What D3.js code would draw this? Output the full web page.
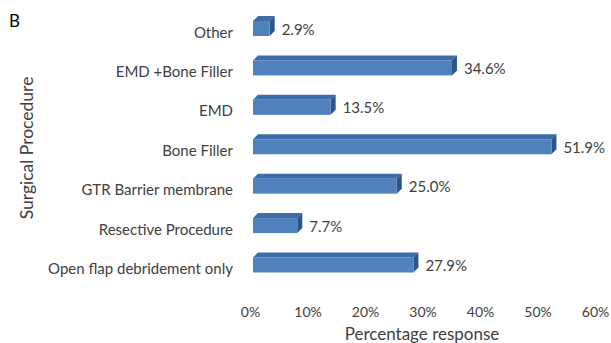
<!DOCTYPE html>
<html><head><meta charset="utf-8">
<script src="https://cdn.jsdelivr.net/npm/d3@7"></script>
<style>body{margin:0;background:#fff}svg{display:block}</style>
</head><body>
<svg id="c" width="611" height="343"></svg>
<script>
const categories = ["Other","EMD +Bone Filler","EMD","Bone Filler","GTR Barrier membrane","Resective Procedure","Open flap debridement only"];
const values = [2.9, 34.6, 13.5, 51.9, 25.0, 7.7, 27.9];
const ticks = [0,10,20,30,40,50,60];

const svg = d3.select("#c");
const font = "Lato, 'Open Sans', sans-serif";
const x = d3.scaleLinear().domain([0,60]).range([253,598]);
const y = d3.scalePoint().domain(categories).range([28.5,265]);
const h = 15, dx = 5, dy = 5;

const g = svg.append("g");
categories.forEach((c,i)=>{
  const yc = y(c), x0 = x(0), x1 = x(values[i]);
  const top = yc - h/2, bot = yc + h/2;
  g.append("path").attr("d",`M${x0},${top}L${x0+dx},${top-dy}L${x1+dx},${top-dy}L${x1},${top}Z`).attr("fill","#3d6ca8");
  g.append("path").attr("d",`M${x1},${top}L${x1+dx},${top-dy}L${x1+dx},${bot-dy}L${x1},${bot}Z`).attr("fill","#2c5689");
  g.append("rect").attr("x",x0).attr("y",top).attr("width",x1-x0).attr("height",h).attr("fill","#4f81bd");
  g.append("text").attr("x",x1+12).attr("y",yc).attr("dominant-baseline","central")
    .attr("font-family",font).attr("font-size",15).attr("fill","#404040").text(values[i].toFixed(1)+"%");
  g.append("text").attr("x",233).attr("y",yc+3).attr("dominant-baseline","central").attr("text-anchor","end")
    .attr("font-family",font).attr("font-size",15).attr("fill","#404040").text(c);
});

const ax = svg.append("g").call(d3.axisBottom(x).tickValues(ticks).tickSize(0).tickFormat(d=>d+"%"));
ax.attr("transform","translate(-3,304)");
ax.select(".domain").remove();
ax.selectAll("text").attr("font-family",font).attr("font-size",14).attr("fill","#404040").attr("dy","0.71em");

svg.append("text").attr("x",422).attr("y",340).attr("text-anchor","middle")
  .attr("font-family",font).attr("font-size",17).attr("fill","#404040").text("Percentage response");
svg.append("text").attr("transform","translate(33,148) rotate(-90)").attr("text-anchor","middle")
  .attr("font-family",font).attr("font-size",17.5).attr("fill","#404040").text("Surgical Procedure");
svg.append("text").attr("x",9).attr("y",27).attr("font-family",font).attr("font-size",17).attr("fill","#000").text("B");
</script>
</body></html>
